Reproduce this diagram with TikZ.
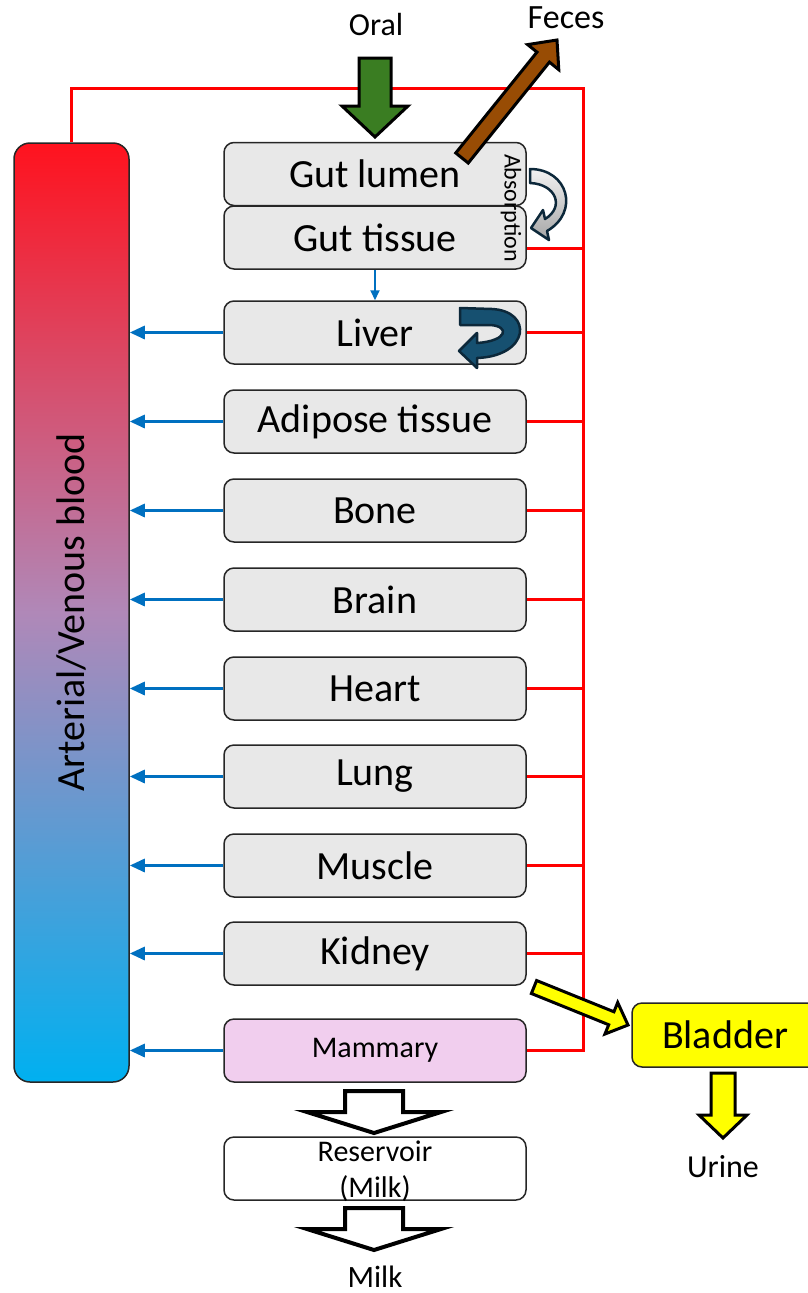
\documentclass[tikz,border=0pt]{standalone}
\usepackage{fontspec}
\setmainfont{Carlito}
\usetikzlibrary{calc,arrows.meta,positioning}
\definecolor{organGray}{RGB}{232,232,232}
\definecolor{milkPink}{RGB}{241,206,238}
\definecolor{veinBlue}{RGB}{0,112,192}
\definecolor{arteryRed}{RGB}{255,0,0}
\definecolor{bloodTop}{RGB}{255,18,30}
\definecolor{bloodMid}{RGB}{176,136,184}
\definecolor{bloodBottom}{RGB}{0,176,240}
\definecolor{oralGreen}{RGB}{58,125,34}
\definecolor{fecesBrown}{RGB}{152,76,4}
\definecolor{urineYellow}{RGB}{255,255,0}
\definecolor{loopTeal}{RGB}{22,80,112}
\definecolor{loopDark}{RGB}{12,40,58}

\tikzset{
  organ/.style={rounded corners=10pt,draw=black!85,fill=organGray,line width=1.5pt,minimum width=302pt,minimum height=63pt,inner sep=0pt,font=\fontsize{40}{46}\selectfont},
  bloodcol/.style={rounded corners=16pt,draw=black!85,line width=1.5pt,top color=bloodTop,bottom color=bloodBottom,middle color=bloodMid,minimum width=115pt,minimum height=939pt},
  venous/.style={draw=veinBlue,line width=3pt,-{Triangle[length=15pt,width=13pt]}},
  arterial/.style={draw=arteryRed,line width=3pt},
  blockarrow/.style={draw=black,line width=3pt,line join=miter},
  looparrow/.style={draw=loopDark,line width=2.5pt,line join=round}
}

% block arrow: style, tail, tip, shaft half width, head half width, head length
\newcommand{\drawblock}[6]{%
  \draw[#1] ($(#2)!#4!90:(#3)$)
    -- ($(#3)!#6!(#2)!#4!90:(#3)$)
    -- ($(#3)!#6!(#2)!#5!90:(#3)$)
    -- (#3)
    -- ($(#3)!#6!(#2)!#5!-90:(#3)$)
    -- ($(#3)!#6!(#2)!#4!-90:(#3)$)
    -- ($(#2)!#4!-90:(#3)$) -- cycle;}

\begin{document}
\begin{tikzpicture}[x=1pt,y=-1pt]
\useasboundingbox (0,0) rectangle (808,1293);

% blood compartment
\node[bloodcol] (blood) at (71.5,612.5) {};
\node[rotate=90,font=\fontsize{40}{46}\selectfont] (bloodlabel) at (blood.center) {Arterial/Venous blood};
\coordinate (busTop) at (583,88);

% gut
\node[organ] (gutlumen) at (375,174) {Gut lumen};
\node[organ] (guttissue) at (375,237.5) {Gut tissue};
\coordinate (gutOut) at ($(guttissue.east)+(0,10.5)$);
\draw[arterial] (gutOut) -- (gutOut -| busTop);

% organs
\foreach \organname/\organtext/\y in {liver/Liver/332.5,adipose/Adipose tissue/421.5,bone/Bone/510.5,brain/Brain/599.5,heart/Heart/688.5,lung/Lung/776.5,muscle/Muscle/865.5,kidney/Kidney/953.5}{
  \node[organ] (\organname) at (375,\y) {\organtext};
  \draw[venous] (\organname.west) -- (\organname.west -| blood.east);
  \draw[arterial] (\organname.east) -- (\organname.east -| busTop);
}
\draw[venous,line width=2pt,-{Triangle[length=10pt,width=9pt]}] (guttissue.south) -- (liver.north);

\node[organ,fill=milkPink,font=\fontsize{30}{36}\selectfont] (mammary) at (375,1050.5) {Mammary};
\draw[venous] (mammary.west) -- (mammary.west -| blood.east);
\draw[arterial] (blood.north) |- (busTop) |- (mammary.east);

\node[organ,fill=white] (reservoir) at (375,1168.5) {};
\node[font=\fontsize{30}{36}\selectfont,align=center] (reservoirlabel) at (375,1171) {Reservoir\\(Milk)};
\node[organ,fill=urineYellow,minimum width=186pt,minimum height=64pt] (bladder) at (725,1035) {Bladder};

% labels
\node[font=\fontsize{32}{38}\selectfont] (oral) at (376,25) {Oral};
\node[font=\fontsize{34}{40}\selectfont] (feces) at (566,18) {Feces};
\node[font=\fontsize{32}{38}\selectfont] (urine) at (723,1167) {Urine};
\node[font=\fontsize{31}{37}\selectfont] (milk) at (375,1277) {Milk};
\node[rotate=-90,font=\fontsize{24}{28}\selectfont] (absorption) at (511,208) {Absorption};

% block arrows
\coordinate (oralTail) at (375,58);
\coordinate (oralTip) at (375,137);
\drawblock{blockarrow,fill=oralGreen}{oralTail}{oralTip}{16pt}{33pt}{31pt}
\coordinate (fecesTail) at (462,158);
\coordinate (fecesTip) at (557,40);
\drawblock{blockarrow,fill=fecesBrown}{fecesTail}{fecesTip}{8pt}{20pt}{22pt}
\coordinate (kidneyOut) at (534,987);
\coordinate (bladderIn) at (628,1025);
\drawblock{blockarrow,fill=urineYellow}{kidneyOut}{bladderIn}{7pt}{17pt}{18pt}
\coordinate (bladderOut) at (723,1073);
\coordinate (urineIn) at (723,1138);
\drawblock{blockarrow,fill=urineYellow}{bladderOut}{urineIn}{12pt}{24pt}{23pt}
\coordinate (milkTail1) at (374,1091);
\coordinate (milkTip1) at (374,1133);
\drawblock{blockarrow,fill=white,line width=4pt}{milkTail1}{milkTip1}{29pt}{67pt}{21pt}
\coordinate (milkTail2) at (374,1208);
\coordinate (milkTip2) at (374,1250);
\drawblock{blockarrow,fill=white,line width=4pt}{milkTail2}{milkTip2}{29pt}{67pt}{21pt}

% absorption and liver loops
\draw[looparrow,top color=gray!10,bottom color=gray!70] (530,169) .. controls (568,169) and (580,212) .. (547,231) -- (549,240) -- (531,228) -- (543,210) -- (545,219) .. controls (565,207) and (556,184) .. (530,183) -- cycle;
\draw[looparrow,fill=loopTeal] (460,308) -- (492,309) .. controls (533,311) and (530,356) .. (477,358) -- (477,368) -- (459,351) -- (477,333) -- (477,343) .. controls (508,341) and (510,326) .. (490,325) -- (460,325) -- cycle;
\end{tikzpicture}
\end{document}
